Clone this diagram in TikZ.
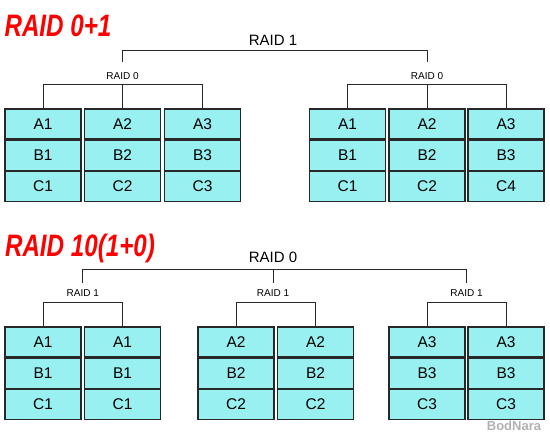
\documentclass[tikz,border=0pt]{standalone}
\usepackage{fontspec}
\setmainfont{Liberation Sans}
\usetikzlibrary{positioning}
\definecolor{diskfill}{RGB}{153,240,240}
\definecolor{wire}{RGB}{40,40,40}

\begin{document}
\begin{tikzpicture}[
  x=1pt, y=-1pt,
  cell/.style={draw=wire, line width=1.3pt, fill=diskfill,
    minimum width=76pt, minimum height=30pt, inner sep=0pt,
    font=\fontsize{15.5}{15.5}\selectfont},
  bus/.style={draw=wire, line width=1pt},
  biglabel/.style={font=\fontsize{15}{15}\selectfont, inner sep=1pt},
  smalllabel/.style={font=\fontsize{10}{10}\selectfont, inner sep=1pt},
  title/.style={text=red, inner sep=0pt,
    font=\fontsize{31}{31}\selectfont\bfseries\itshape}
  ]
\useasboundingbox (0,0) rectangle (550,433);

% titles
\node[title] (head1) at (58,26) {\scalebox{0.78}[1]{RAID 0+1}};
\node[title] (head2) at (80,248) {\scalebox{0.78}[1]{RAID 10(1+0)}};

% disks, RAID 0+1
\foreach \name/\x/\a/\b/\c in {p1/43/A1/B1/C1, p2/122.5/A2/B2/C2, p3/202.5/A3/B3/C3,
    p4/347.5/A1/B1/C1, p5/427/A2/B2/C2, p6/506/A3/B3/C4} {
  \node[cell] (\name a) at (\x,124) {\a};
  \node[cell, below=0pt of \name a] (\name b) {\b};
  \node[cell, below=0pt of \name b] (\name c) {\c};
}

% disks, RAID 10
\foreach \name/\x/\a/\b/\c in {m1/43/A1/B1/C1, m2/122.5/A1/B1/C1, m3/236/A2/B2/C2,
    m4/315.5/A2/B2/C2, m5/427/A3/B3/C3, m6/506/A3/B3/C3} {
  \node[cell] (\name a) at (\x,342) {\a};
  \node[cell, below=0pt of \name a] (\name b) {\b};
  \node[cell, below=0pt of \name b] (\name c) {\c};
}

% tree, RAID 0+1
\node[biglabel] (r1) at (273,40) {RAID 1};
\node[smalllabel] (s1) at (122.5,76) {RAID 0};
\node[smalllabel] (s2) at (427,76) {RAID 0};
\draw[bus] ([yshift=9.5pt]s1.north) |- ([yshift=-4.6pt]r1.south) -| ([yshift=9.5pt]s2.north);
\draw[bus] (p1a.north) |- ([yshift=-3.4pt]s1.south) -| (p3a.north);
\draw[bus] ([yshift=-3.4pt]s1.south) -- (p2a.north);
\draw[bus] (p4a.north) |- ([yshift=-3.4pt]s2.south) -| (p6a.north);
\draw[bus] ([yshift=-3.4pt]s2.south) -- (p5a.north);

% tree, RAID 10
\node[biglabel] (r0) at (273,257) {RAID 0};
\node[smalllabel] (q1) at (82.75,293) {RAID 1};
\node[smalllabel] (q2) at (273,293) {RAID 1};
\node[smalllabel] (q3) at (466.5,293) {RAID 1};
\draw[bus] ([yshift=5.6pt]q1.north) |- ([yshift=-5.6pt]r0.south) -| ([yshift=5.6pt]q3.north);
\draw[bus] ([yshift=-5.6pt]r0.south) -- ([yshift=5.6pt]q2.north);
\draw[bus] (m1a.north) |- ([yshift=-4.4pt]q1.south) -| (m2a.north);
\draw[bus] (m3a.north) |- ([yshift=-4.4pt]q2.south) -| (m4a.north);
\draw[bus] (m5a.north) |- ([yshift=-4.4pt]q3.south) -| (m6a.north);

% watermark
\node[text=gray!60, font=\fontsize{13}{13}\selectfont\bfseries] (mark) at (514,426) {BodNara};
\end{tikzpicture}
\end{document}
